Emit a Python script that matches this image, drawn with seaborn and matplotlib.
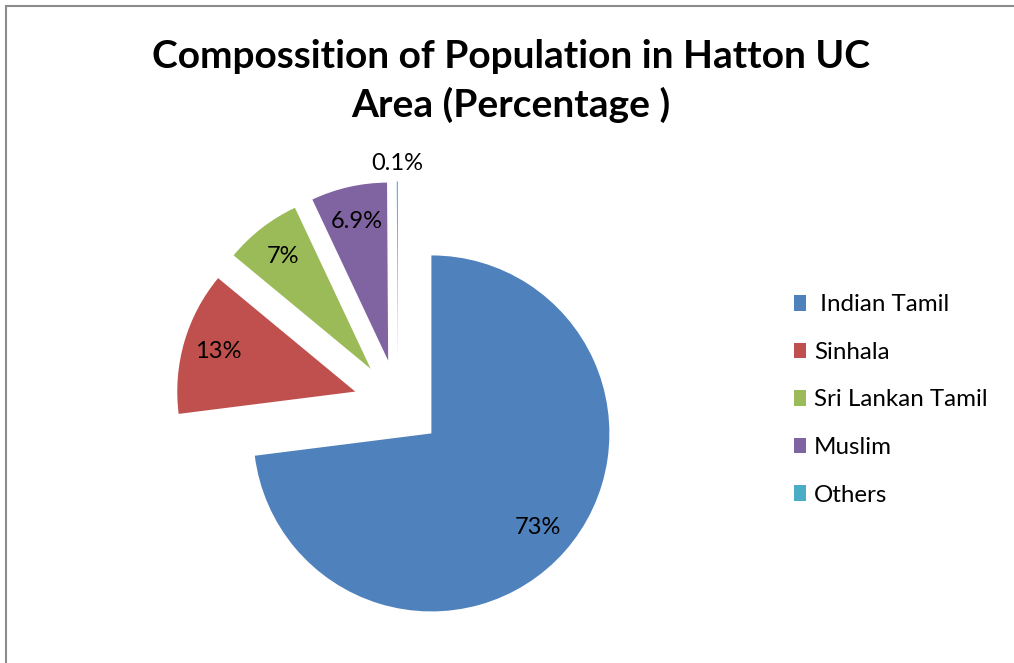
import numpy as np
import matplotlib
matplotlib.use("Agg")
import matplotlib.pyplot as plt
import seaborn as sns
from matplotlib.lines import Line2D
from matplotlib.patches import Patch

sns.set_theme(style="white")
plt.rcParams['font.family'] = ['Lato', 'DejaVu Sans']
plt.rcParams['text.color'] = 'black'

categories = [" Indian Tamil", "Sinhala", "Sri Lankan Tamil", "Muslim", "Others"]
values = [73, 13, 7, 6.9, 0.1]
pct_labels = ["73%", "13%", "7%", "6.9%", "0.1%"]
colors = ["#4F81BD", "#C0504D", "#9BBB59", "#8064A2", "#4BACC6"]
title = "Compossition of Population in Hatton UC\nArea (Percentage )"

W, H = 1014, 663
fig = plt.figure(figsize=(W / 100, H / 100), dpi=100)
ax = fig.add_axes([0, 0, 1, 1])

cx, cy, r = 398, H - 404, 178
explode_frac = 0.25
wedges, _ = ax.pie(values, colors=colors, startangle=90, counterclock=False,
                   explode=[explode_frac * r] * len(values), radius=r,
                   center=(cx, cy), wedgeprops=dict(linewidth=0), frame=False)
ax.set_xlim(0, W)
ax.set_ylim(0, H)
ax.set_aspect('equal')
ax.axis('off')

for i, (w, lab) in enumerate(zip(wedges, pct_labels)):
    ang = np.deg2rad((w.theta1 + w.theta2) / 2)
    wcx, wcy = w.center
    d = 1.1 if values[i] < 1 else 0.8
    ax.text(wcx + d * r * np.cos(ang), wcy + d * r * np.sin(ang), lab,
            ha='center', va='center', fontsize=17, color='black')

fig.text(0.504, 0.878, title, ha='center', va='center', fontsize=28,
         fontweight='bold', linespacing=1.4, color='black')

handles = [Patch(facecolor=c, edgecolor='none') for c in colors]
leg = fig.legend(handles, categories, loc='center left',
                 bbox_to_anchor=(794 / W, 1 - 400 / H), frameon=False,
                 fontsize=17.4, handlelength=0.5, handleheight=0.62,
                 handletextpad=0.33, labelspacing=1.1, borderpad=0,
                 borderaxespad=0, labelcolor='black')

# outer border (top and left)
fig.add_artist(Line2D([6 / W, 6 / W], [0, 1 - 6 / H], color='#8c8c8c', lw=1.5,
                      transform=fig.transFigure))
fig.add_artist(Line2D([6 / W, 1], [1 - 6 / H, 1 - 6 / H], color='#8c8c8c', lw=1.5,
                      transform=fig.transFigure))

fig.savefig("out.png", dpi=100)
